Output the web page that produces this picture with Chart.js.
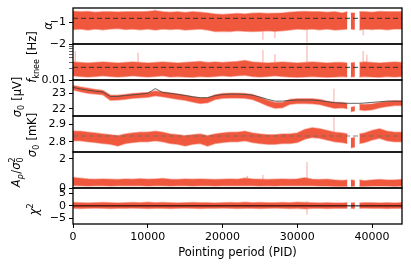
<!DOCTYPE html>
<html>
<head>
<meta charset="utf-8">
<script src="https://cdn.jsdelivr.net/npm/chart.js@4.4.1/dist/chart.umd.min.js"></script>
<style>
  html, body { margin: 0; padding: 0; background: #fff; }
  #wrap { position: relative; width: 411px; height: 269px; overflow: hidden; }
  #wrap canvas { position: absolute; left: 0; }
</style>
</head>
<body>
<div id="wrap"></div>
<script>
// pointing periods sampled along the x axis (nulls below mark the data gaps)
const pid = [0,1000,2000,3000,4000,5000,6000,7000,8000,9000,
  10000,11000,12000,13000,14000,15000,16000,17000,18000,19000,
  20000,21000,22000,23000,24000,25000,26000,27000,28000,29000,
  30000,31000,32000,33000,34000,35000,36000,36700,36900,37150,
  37700,38000,38300,39000,40000,41000,42000,43000,44000];
const xTicks = [0, 10000, 20000, 30000, 40000];

// alpha
const alphaHi = [-0.47,-0.5,-0.48,-0.52,-0.5,-0.49,-0.51,-0.5,-0.49,-0.5,
  -0.48,-0.45,-0.5,-0.52,-0.5,-0.53,-0.5,-0.52,-0.55,-0.6,
  -0.62,-0.6,-0.58,-0.6,-0.57,-0.55,-0.58,-0.56,-0.55,-0.52,
  -0.5,-0.48,-0.5,-0.5,-0.52,-0.5,-0.55,-0.5,null,-0.55,
  -0.55,null,-0.5,-0.5,-0.52,-0.48,-0.5,-0.49,-0.5];
const alphaLo = [-1.32,-1.3,-1.35,-1.3,-1.33,-1.3,-1.28,-1.32,-1.3,-1.33,
  -1.3,-1.35,-1.3,-1.32,-1.3,-1.35,-1.32,-1.3,-1.35,-1.42,
  -1.4,-1.42,-1.38,-1.4,-1.42,-1.4,-1.38,-1.4,-1.38,-1.35,
  -1.3,-1.32,-1.3,-1.33,-1.3,-1.35,-1.32,-1.3,null,-1.3,
  -1.32,null,-1.35,-1.3,-1.32,-1.3,-1.33,-1.3,-1.3];
const alphaSpikes = [[11000,-0.6,-0.38],[25400,-1.8,-1.2],[27000,-1.72,-1.2],[31300,-1.93,-1.2],[38800,-1.6,-1.2]];
const alphaRef = -0.8;

// f_knee [Hz]
const fkHi = [0.031,0.03,0.029,0.03,0.031,0.03,0.029,0.03,0.031,0.03,
  0.029,0.03,0.031,0.03,0.029,0.03,0.031,0.032,0.03,0.031,
  0.03,0.031,0.032,0.034,0.031,0.03,0.029,0.03,0.031,0.03,
  0.029,0.03,0.031,0.03,0.029,0.03,0.03,0.029,null,0.029,
  0.03,null,0.03,0.031,0.03,0.029,0.03,0.031,0.03];
const fkLo = [0.013,0.0125,0.012,0.0125,0.013,0.0125,0.012,0.0125,0.013,0.0125,
  0.012,0.0125,0.013,0.012,0.0125,0.012,0.0118,0.0125,0.012,0.0125,
  0.013,0.0125,0.013,0.0135,0.0125,0.012,0.0125,0.013,0.0125,0.012,
  0.0118,0.012,0.0125,0.012,0.0118,0.012,0.0125,0.012,null,0.012,
  0.0125,null,0.012,0.0125,0.012,0.0118,0.0125,0.012,0.0125];
const fkSpikes = [[300,0.03,0.061],[8700,0.03,0.055],[25400,0.03,0.065],[27000,0.03,0.05],[31300,0.03,0.088],[38800,0.03,0.061],[39300,0.03,0.049]];
const fkRef = 0.022;
const fkTicks = [0.01,0.02,0.03,0.04,0.05,0.06,0.07,0.08,0.09];

// sigma_0 [uV]
const sigHi = [23.5,23.4,23.32,23.25,23.18,22.88,22.88,22.93,22.98,23.02,
  23.05,23.15,23.08,23.02,22.95,22.88,22.78,22.7,22.72,22.9,
  22.98,23.0,23.0,22.98,22.92,22.75,22.55,22.42,22.42,22.6,
  22.65,22.65,22.65,22.6,22.5,22.42,22.42,22.35,null,22.1,
  22.15,null,22.3,22.28,22.32,22.42,22.47,22.52,22.52];
const sigLo = [23.22,23.1,23.0,22.95,22.9,22.55,22.58,22.62,22.68,22.72,
  22.75,22.85,22.78,22.7,22.62,22.55,22.45,22.35,22.4,22.6,
  22.68,22.7,22.7,22.68,22.6,22.42,22.2,22.05,22.08,22.3,
  22.35,22.35,22.33,22.28,22.15,22.05,22.08,22.02,null,21.82,
  21.88,null,21.95,21.9,21.95,22.08,22.15,22.22,22.22];
const sigModel = [23.38,23.28,23.2,23.13,23.08,22.8,22.8,22.86,22.9,22.95,
  23.0,23.3,23.05,23.0,22.93,22.86,22.78,22.72,22.72,22.85,
  22.92,22.95,22.95,22.93,22.88,22.76,22.62,22.5,22.5,22.55,
  22.57,22.57,22.57,22.53,22.46,22.4,22.37,22.36,22.36,22.36,
  22.36,22.36,22.36,22.38,22.42,22.46,22.5,22.5,22.48];
const sigSpikes = [[34900,22.3,23.3]];

// sigma_0 [mK]
const mkHi = [2.86,2.86,2.855,2.85,2.845,2.84,2.835,2.845,2.85,2.855,
  2.855,2.86,2.855,2.845,2.84,2.835,2.84,2.845,2.835,2.845,
  2.85,2.855,2.855,2.86,2.85,2.845,2.84,2.84,2.845,2.845,
  2.85,2.87,2.88,2.875,2.865,2.855,2.85,2.845,null,2.82,
  2.825,null,2.845,2.85,2.865,2.875,2.86,2.855,2.855];
const mkLo = [2.805,2.805,2.8,2.795,2.79,2.785,2.775,2.79,2.795,2.8,
  2.8,2.805,2.8,2.79,2.785,2.775,2.785,2.79,2.775,2.79,
  2.795,2.8,2.8,2.805,2.795,2.79,2.785,2.785,2.79,2.79,
  2.795,2.815,2.825,2.82,2.81,2.8,2.795,2.79,null,2.765,
  2.77,null,2.79,2.795,2.81,2.82,2.805,2.8,2.8];
const mkSpikes = [[34900,2.8,2.94]];
const mkRef = 2.833;

// A_p / sigma_0^2
const apHi = [0.72,0.68,0.62,0.6,0.62,0.6,0.58,0.62,0.6,0.64,
  0.6,0.62,0.65,0.6,0.58,0.62,0.6,0.62,0.6,0.58,
  0.6,0.62,0.6,0.68,0.62,0.6,0.58,0.6,0.62,0.6,
  0.62,0.7,0.6,0.58,0.6,0.55,0.52,0.55,null,0.55,
  0.52,null,0.55,0.5,0.55,0.58,0.55,0.55,0.58];
const apLo = [0.18,0.15,0.14,0.15,0.16,0.14,0.15,0.16,0.15,0.15,
  0.14,0.16,0.15,0.14,0.15,0.15,0.14,0.15,0.16,0.14,
  0.15,0.16,0.15,0.16,0.15,0.14,0.15,0.14,0.15,0.16,
  0.15,0.16,0.15,0.14,0.13,0.12,0.12,0.12,null,0.12,
  0.13,null,0.12,0.12,0.13,0.14,0.13,0.12,0.13];
const apSpikes = [[23300,0.5,0.84],[25400,0.5,0.9],[31300,0.5,1.8]];

// chi^2
const chiHi = [1.3,1.2,1.1,1.2,1.3,1.2,1.1,1.2,1.3,1.2,
  1.4,1.2,1.3,1.2,1.1,1.2,1.3,1.2,1.2,1.1,
  1.2,1.3,1.2,1.4,1.2,1.3,1.2,1.2,1.3,1.2,
  1.4,1.3,1.2,1.1,1.2,1.1,1.1,1.2,null,1.1,
  1.2,null,1.1,1.2,1.2,1.1,1.2,1.1,1.2];
const chiLo = [-0.9,-1.0,-0.9,-0.8,-0.9,-1.0,-0.9,-0.9,-0.8,-0.9,
  -1.0,-0.9,-0.9,-1.0,-0.9,-0.8,-0.9,-1.0,-0.9,-0.9,
  -0.8,-0.9,-1.0,-0.9,-0.9,-1.0,-0.9,-0.8,-0.9,-1.0,
  -0.9,-1.1,-0.9,-0.9,-1.0,-0.9,-0.9,-0.9,null,-0.9,
  -1.0,null,-0.9,-0.8,-0.9,-0.9,-1.0,-0.9,-0.9];
const chiSpikes = [[31300,-3.5,1.8]];
const chiRef = 0;

const XMIN = 0, XMAX = 44000;
const RED = 'rgb(240,88,62)';
const EDGE = 'rgba(240,95,72,0.45)';
const SPIKE = 'rgba(240,100,80,0.55)';
const FONT = "'DejaVu Sans', sans-serif";
const PAD = 30;

Chart.defaults.font.family = FONT;
Chart.defaults.font.size = 11;
Chart.defaults.color = '#000';

const wrap = document.getElementById('wrap');

const pts = arr => pid.map((x, i) => ({x, y: arr[i]}));

function band(lo, hi) {
  return [
    {data: pts(lo), borderColor: EDGE, borderWidth: 1.5, pointRadius: 0, fill: false, order: 10},
    {data: pts(hi), borderColor: EDGE, borderWidth: 1.5, pointRadius: 0, fill: '-1', backgroundColor: RED, order: 10}
  ];
}

function refLine(v, color, dash, w) {
  return {data: [{x: XMIN, y: v}, {x: XMAX, y: v}], borderColor: color, borderDash: dash,
    borderWidth: w, pointRadius: 0, fill: false, order: 1};
}

function spikeSet(list) {
  return {data: list.flatMap(([p, a, b]) => [{x: p, y: a}, {x: p, y: b}, {x: p, y: null}]),
    borderColor: SPIKE, borderWidth: 1, pointRadius: 0, fill: false, spanGaps: false, order: 5};
}

function lineSet(arr, color) {
  return {data: pts(arr), borderColor: color, borderWidth: 1, pointRadius: 0, fill: false, order: 2};
}

const minus = v => (v < 0 ? '\u2212' : '') + Math.abs(v);

// box around each panel
const frame = {
  id: 'frame',
  afterDraw(ch) {
    const {left, top, right, bottom} = ch.chartArea;
    const ctx = ch.ctx;
    ctx.save();
    ctx.strokeStyle = '#000';
    ctx.lineWidth = 1.3;
    ctx.strokeRect(left, top, right - left, bottom - top);
    ctx.restore();
  }
};

// rotated y label with sub/superscripts
function yTitle(parts, cx, cy, offTop) {
  return {
    id: 'ytitle',
    afterDraw(ch) {
      const ctx = ch.ctx;
      const fs = 11.5;
      const f = (it, small) => (it ? 'italic ' : '') + (small ? fs * 0.7 : fs) + 'px ' + FONT;
      const widths = parts.map(p => {
        if (p.t !== undefined) { ctx.font = f(p.i, false); return ctx.measureText(p.t).width; }
        let w = 0;
        ctx.font = f(p.i, true);
        if (p.sub) w = Math.max(w, ctx.measureText(p.sub).width);
        if (p.sup) w = Math.max(w, ctx.measureText(p.sup).width);
        return w + 0.5;
      });
      const total = widths.reduce((a, b) => a + b, 0);
      ctx.save();
      ctx.translate(cx, cy - offTop);
      ctx.rotate(-Math.PI / 2);
      ctx.fillStyle = '#000';
      ctx.textBaseline = 'alphabetic';
      ctx.textAlign = 'left';
      const base = fs * 0.36;
      let x = -total / 2;
      parts.forEach((p, i) => {
        if (p.t !== undefined) {
          ctx.font = f(p.i, false);
          ctx.fillText(p.t, x, base);
        } else {
          ctx.font = f(p.i, true);
          if (p.sub) ctx.fillText(p.sub, x, base + fs * 0.22);
          if (p.sup) ctx.fillText(p.sup, x, base - fs * 0.42);
        }
        x += widths[i];
      });
      ctx.restore();
    }
  };
}

function panel(o) {
  const c = document.createElement('canvas');
  const top = o.top - PAD;
  const h = o.last ? PAD + 36 + 36 : PAD + 36 + PAD;
  c.width = 411;
  c.height = h;
  c.style.top = top + 'px';
  wrap.appendChild(c);
  const isMajor = v => o.major ? Math.abs(v - o.major) < 1e-9 : true;
  new Chart(c, {
    type: 'line',
    data: {datasets: o.sets},
    options: {
      responsive: false,
      animation: false,
      layout: {padding: {left: 0, right: 9, top: PAD, bottom: o.last ? 0 : PAD}},
      plugins: {legend: {display: false}, tooltip: {enabled: false}},
      scales: {
        x: {
          type: 'linear', min: XMIN, max: XMAX, display: !!o.last,
          grid: {drawOnChartArea: false, tickLength: 4, color: '#000'},
          border: {display: false},
          afterBuildTicks: s => { s.ticks = xTicks.map(v => ({value: v})); },
          afterFit: s => { s.height = o.last ? 36 : 0; },
          ticks: {padding: 3, autoSkip: false, maxRotation: 0, callback: v => String(v)},
          title: {display: true, text: 'Pointing period (PID)', font: {size: 11.5}, padding: {top: 0, bottom: 0}}
        },
        y: {
          type: o.type || 'linear', min: o.min, max: o.max,
          grid: {drawOnChartArea: false, tickLength: 4, color: '#000',
            tickWidth: ctx => (ctx.tick && !isMajor(ctx.tick.value)) ? 0.6 : 1},
          border: {display: false},
          afterBuildTicks: s => { s.ticks = o.ticks.map(v => ({value: v})); },
          afterFit: s => { s.width = 73; },
          ticks: {padding: 3, autoSkip: false, callback: v => isMajor(v) ? minus(v) : ''}
        }
      }
    },
    plugins: [frame, yTitle(o.title, o.tx, o.ty, top)]
  });
}

panel({top: 8, min: -2, max: -0.32, ticks: [-2, -1],
  sets: [...band(alphaLo, alphaHi), spikeSet(alphaSpikes), refLine(alphaRef, 'rgba(40,40,40,0.75)', [5, 3], 1.2)],
  title: [{t: 'α', i: true}], tx: 48, ty: 26});

panel({top: 44, type: 'logarithmic', min: 0.01, max: 0.095, ticks: fkTicks, major: 0.01,
  sets: [...band(fkLo, fkHi), spikeSet(fkSpikes), refLine(fkRef, 'rgba(40,40,40,0.75)', [5, 3], 1.2)],
  title: [{t: 'f', i: true}, {sub: 'knee'}, {t: ' [Hz]'}], tx: 32, ty: 57});

panel({top: 80, min: 21.55, max: 23.85, ticks: [22, 23],
  sets: [...band(sigLo, sigHi), spikeSet(sigSpikes), lineSet(sigModel, 'rgba(70,70,70,0.85)')],
  title: [{t: 'σ', i: true}, {sub: '0'}, {t: ' [μV]'}], tx: 17, ty: 97});

panel({top: 116, min: 2.741, max: 2.948, ticks: [2.8, 2.9],
  sets: [...band(mkLo, mkHi), spikeSet(mkSpikes), refLine(mkRef, 'rgba(110,110,110,0.85)', [5, 3], 1.2)],
  title: [{t: 'σ', i: true}, {sub: '0'}, {t: ' [mK]'}], tx: 32, ty: 135});

panel({top: 152, min: 0, max: 2.48, ticks: [0, 2],
  sets: [...band(apLo, apHi), spikeSet(apSpikes)],
  title: [{t: 'A', i: true}, {sub: 'p', i: true}, {t: '/'}, {t: 'σ', i: true}, {sub: '0', sup: '2'}], tx: 16, ty: 172});

panel({top: 188, min: -7.2, max: 7.1, ticks: [-5, 0, 5], last: true,
  sets: [...band(chiLo, chiHi), spikeSet(chiSpikes), refLine(chiRef, '#000', [], 1)],
  title: [{t: 'χ', i: true}, {sup: '2'}], tx: 33.5, ty: 209});
</script>
</body>
</html>
